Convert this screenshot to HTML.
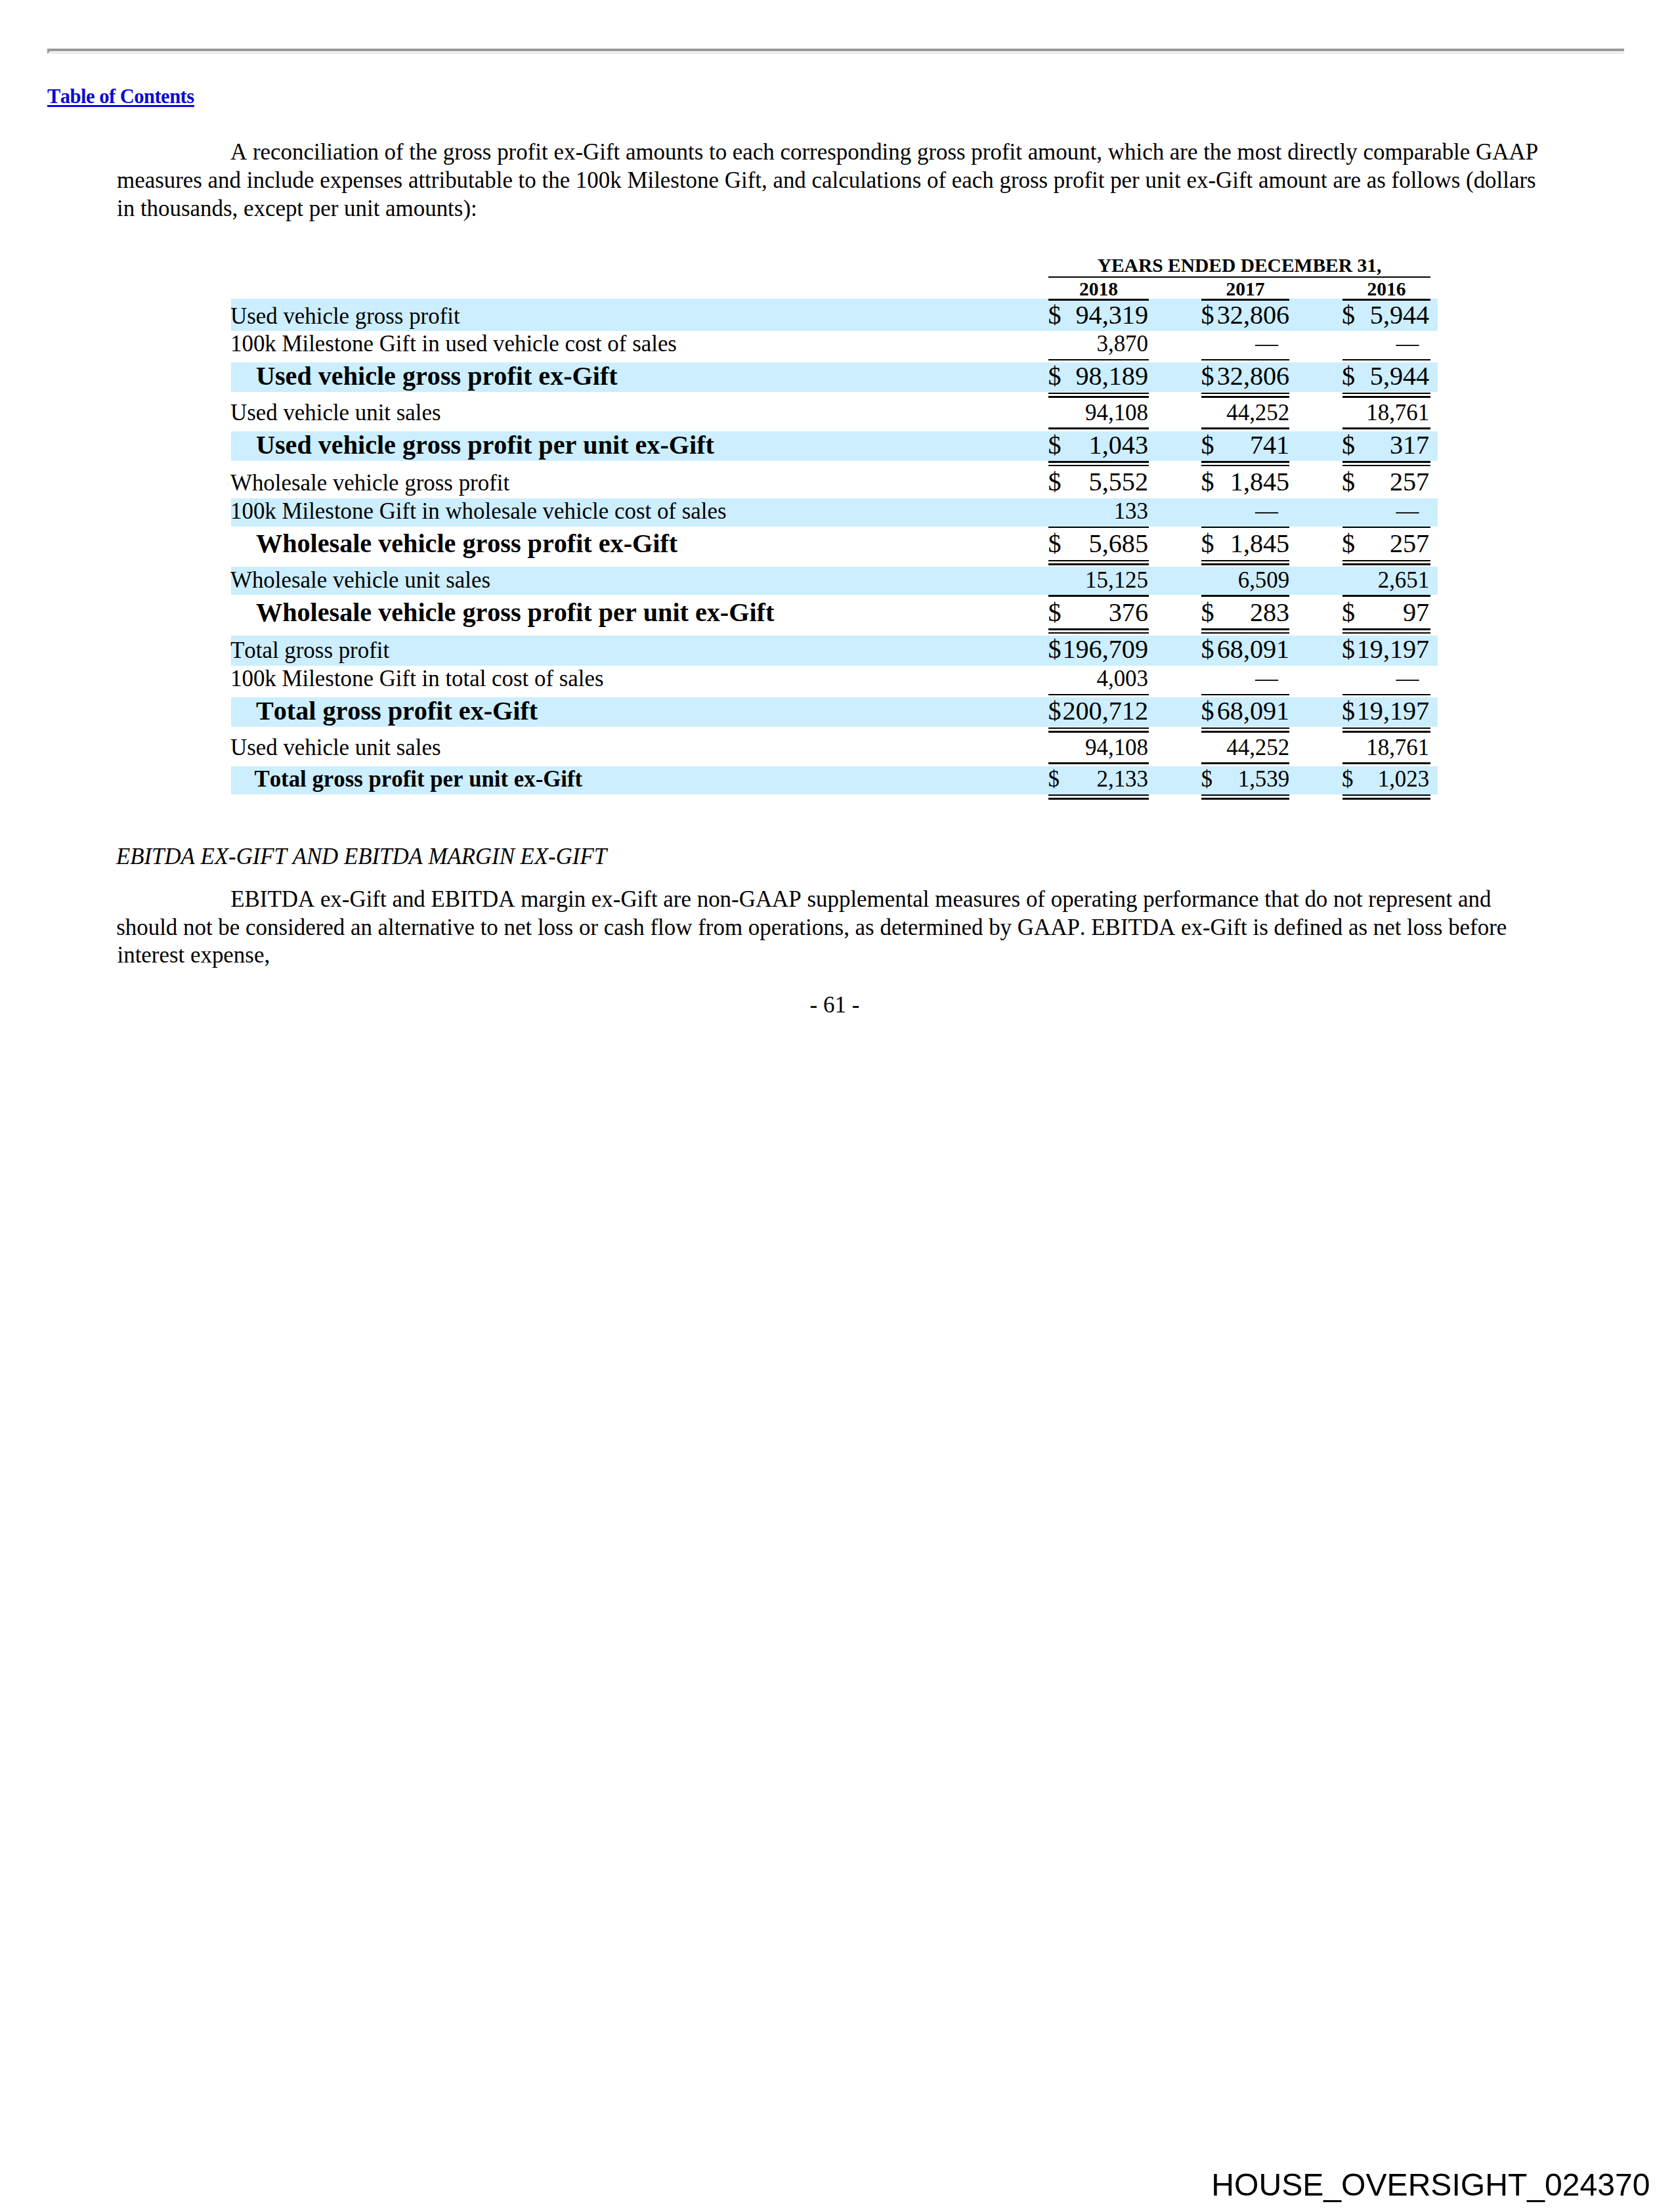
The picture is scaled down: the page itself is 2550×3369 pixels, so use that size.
<!DOCTYPE html>
<html lang="en"><head><meta charset="utf-8"><title>Page 61</title>
<style>
html,body{margin:0;padding:0;background:#fff;}
body{width:2550px;height:3369px;position:relative;overflow:hidden;}
.t{position:absolute;white-space:nowrap;color:#000;font-kerning:none;font-variant-ligatures:none;}
.r{position:absolute;}
.bm{display:inline-block;width:0;height:0;vertical-align:baseline;}
</style></head><body>
<div class="r" style="left:72px;top:74px;width:2402px;height:4px;background:#999999"></div>
<div class="r" style="left:72px;top:79px;width:2401px;height:3px;background:#ececec"></div>
<div class="r" style="left:72px;top:78px;width:4px;height:4px;background:#999999;clip-path:polygon(0 0,100% 0,0 100%)"></div>
<a class="t" href="#toc" style="top:132.00px;font-size:30.5px;line-height:30.5px;font-family:'Liberation Serif', 'Times New Roman', serif;font-weight:bold;color:#0a0ad8;left:72.00px;letter-spacing:-0.5px;text-decoration:none;">Table of Contents</a>
<div class="r" style="left:72px;top:160px;width:224px;height:3px;background:#0a0ad8"></div>
<div class="t" style="top:215.00px;font-size:34.92px;line-height:34.92px;font-family:'Liberation Serif', 'Times New Roman', serif;left:351.00px;">A reconciliation of the gross profit ex-Gift amounts to each corresponding gross profit amount, which are the most directly comparable GAAP</div>
<div class="t" style="top:258.01px;font-size:34.92px;line-height:34.92px;font-family:'Liberation Serif', 'Times New Roman', serif;left:178.00px;">measures and include expenses attributable to the 100k Milestone Gift, and calculations of each gross profit per unit ex-Gift amount are as follows (dollars</div>
<div class="t" style="top:301.01px;font-size:34.92px;line-height:34.92px;font-family:'Liberation Serif', 'Times New Roman', serif;left:178.00px;">in thousands, except per unit amounts):</div>
<div class="r" style="left:352px;top:455px;width:1838px;height:49px;background:#CCEEFF"></div>
<div class="r" style="left:352px;top:552px;width:1838px;height:45px;background:#CCEEFF"></div>
<div class="r" style="left:352px;top:657px;width:1838px;height:45px;background:#CCEEFF"></div>
<div class="r" style="left:352px;top:759px;width:1838px;height:43px;background:#CCEEFF"></div>
<div class="r" style="left:352px;top:863px;width:1838px;height:43px;background:#CCEEFF"></div>
<div class="r" style="left:352px;top:968px;width:1838px;height:46px;background:#CCEEFF"></div>
<div class="r" style="left:352px;top:1062px;width:1838px;height:45px;background:#CCEEFF"></div>
<div class="r" style="left:352px;top:1167px;width:1838px;height:43px;background:#CCEEFF"></div>
<div class="t" style="top:390.01px;font-size:29.5px;line-height:29.5px;font-family:'Liberation Serif', 'Times New Roman', serif;font-weight:bold;left:888.00px;width:2000px;text-align:center;">YEARS ENDED DECEMBER 31,</div>
<div class="r" style="left:1597px;top:421px;width:582px;height:2px;background:#000"></div>
<div class="t" style="top:426.01px;font-size:29.5px;line-height:29.5px;font-family:'Liberation Serif', 'Times New Roman', serif;font-weight:bold;left:673.50px;width:2000px;text-align:center;">2018</div>
<div class="r" style="left:1597px;top:455px;width:153px;height:3px;background:#000"></div>
<div class="t" style="top:426.01px;font-size:29.5px;line-height:29.5px;font-family:'Liberation Serif', 'Times New Roman', serif;font-weight:bold;left:897.00px;width:2000px;text-align:center;">2017</div>
<div class="r" style="left:1830px;top:455px;width:134px;height:3px;background:#000"></div>
<div class="t" style="top:426.01px;font-size:29.5px;line-height:29.5px;font-family:'Liberation Serif', 'Times New Roman', serif;font-weight:bold;left:1112.00px;width:2000px;text-align:center;">2016</div>
<div class="r" style="left:2045px;top:455px;width:134px;height:3px;background:#000"></div>
<div class="t" style="top:465.01px;font-size:34.88px;line-height:34.88px;font-family:'Liberation Serif', 'Times New Roman', serif;left:351.00px;">Used vehicle gross profit</div>
<div class="t" style="top:460.00px;font-size:40.2px;line-height:40.2px;font-family:'Liberation Serif', 'Times New Roman', serif;left:1596.40px;">$</div>
<div class="t" style="top:460.00px;font-size:40.2px;line-height:40.2px;font-family:'Liberation Serif', 'Times New Roman', serif;right:801.00px;text-align:right;">94,319</div>
<div class="t" style="top:460.00px;font-size:40.2px;line-height:40.2px;font-family:'Liberation Serif', 'Times New Roman', serif;left:1829.60px;">$</div>
<div class="t" style="top:460.00px;font-size:40.2px;line-height:40.2px;font-family:'Liberation Serif', 'Times New Roman', serif;right:585.80px;text-align:right;">32,806</div>
<div class="t" style="top:460.00px;font-size:40.2px;line-height:40.2px;font-family:'Liberation Serif', 'Times New Roman', serif;left:2044.00px;">$</div>
<div class="t" style="top:460.00px;font-size:40.2px;line-height:40.2px;font-family:'Liberation Serif', 'Times New Roman', serif;right:372.80px;text-align:right;">5,944</div>
<div class="t" style="top:507.01px;font-size:34.88px;line-height:34.88px;font-family:'Liberation Serif', 'Times New Roman', serif;left:351.00px;">100k Milestone Gift in used vehicle cost of sales</div>
<div class="t" style="top:507.01px;font-size:34.9px;line-height:34.9px;font-family:'Liberation Serif', 'Times New Roman', serif;right:801.00px;text-align:right;">3,870</div>
<div class="t" style="top:507.01px;font-size:34.9px;line-height:34.9px;font-family:'Liberation Serif', 'Times New Roman', serif;right:603.00px;text-align:right;">&#8212;</div>
<div class="t" style="top:507.01px;font-size:34.9px;line-height:34.9px;font-family:'Liberation Serif', 'Times New Roman', serif;right:388.70px;text-align:right;">&#8212;</div>
<div class="r" style="left:1597px;top:547px;width:153px;height:2px;background:#000"></div>
<div class="r" style="left:1830px;top:547px;width:134px;height:2px;background:#000"></div>
<div class="r" style="left:2045px;top:547px;width:134px;height:2px;background:#000"></div>
<div class="t" style="top:553.01px;font-size:40.15px;line-height:40.15px;font-family:'Liberation Serif', 'Times New Roman', serif;font-weight:bold;left:390.00px;">Used vehicle gross profit ex-Gift</div>
<div class="t" style="top:553.01px;font-size:40.2px;line-height:40.2px;font-family:'Liberation Serif', 'Times New Roman', serif;left:1596.40px;">$</div>
<div class="t" style="top:553.01px;font-size:40.2px;line-height:40.2px;font-family:'Liberation Serif', 'Times New Roman', serif;right:801.00px;text-align:right;">98,189</div>
<div class="t" style="top:553.01px;font-size:40.2px;line-height:40.2px;font-family:'Liberation Serif', 'Times New Roman', serif;left:1829.60px;">$</div>
<div class="t" style="top:553.01px;font-size:40.2px;line-height:40.2px;font-family:'Liberation Serif', 'Times New Roman', serif;right:585.80px;text-align:right;">32,806</div>
<div class="t" style="top:553.01px;font-size:40.2px;line-height:40.2px;font-family:'Liberation Serif', 'Times New Roman', serif;left:2044.00px;">$</div>
<div class="t" style="top:553.01px;font-size:40.2px;line-height:40.2px;font-family:'Liberation Serif', 'Times New Roman', serif;right:372.80px;text-align:right;">5,944</div>
<div class="r" style="left:1597px;top:598px;width:153px;height:2px;background:#000"></div>
<div class="r" style="left:1597px;top:603px;width:153px;height:3px;background:#000"></div>
<div class="r" style="left:1830px;top:598px;width:134px;height:2px;background:#000"></div>
<div class="r" style="left:1830px;top:603px;width:134px;height:3px;background:#000"></div>
<div class="r" style="left:2045px;top:598px;width:134px;height:2px;background:#000"></div>
<div class="r" style="left:2045px;top:603px;width:134px;height:3px;background:#000"></div>
<div class="t" style="top:612.01px;font-size:34.88px;line-height:34.88px;font-family:'Liberation Serif', 'Times New Roman', serif;left:351.00px;">Used vehicle unit sales</div>
<div class="t" style="top:612.01px;font-size:34.9px;line-height:34.9px;font-family:'Liberation Serif', 'Times New Roman', serif;right:801.00px;text-align:right;">94,108</div>
<div class="t" style="top:612.01px;font-size:34.9px;line-height:34.9px;font-family:'Liberation Serif', 'Times New Roman', serif;right:585.80px;text-align:right;">44,252</div>
<div class="t" style="top:612.01px;font-size:34.9px;line-height:34.9px;font-family:'Liberation Serif', 'Times New Roman', serif;right:372.80px;text-align:right;">18,761</div>
<div class="r" style="left:1597px;top:651px;width:153px;height:3px;background:#000"></div>
<div class="r" style="left:1830px;top:651px;width:134px;height:3px;background:#000"></div>
<div class="r" style="left:2045px;top:651px;width:134px;height:3px;background:#000"></div>
<div class="t" style="top:658.01px;font-size:40.15px;line-height:40.15px;font-family:'Liberation Serif', 'Times New Roman', serif;font-weight:bold;left:390.00px;">Used vehicle gross profit per unit ex-Gift</div>
<div class="t" style="top:658.00px;font-size:40.2px;line-height:40.2px;font-family:'Liberation Serif', 'Times New Roman', serif;left:1596.40px;">$</div>
<div class="t" style="top:658.00px;font-size:40.2px;line-height:40.2px;font-family:'Liberation Serif', 'Times New Roman', serif;right:801.00px;text-align:right;">1,043</div>
<div class="t" style="top:658.00px;font-size:40.2px;line-height:40.2px;font-family:'Liberation Serif', 'Times New Roman', serif;left:1829.60px;">$</div>
<div class="t" style="top:658.00px;font-size:40.2px;line-height:40.2px;font-family:'Liberation Serif', 'Times New Roman', serif;right:585.80px;text-align:right;">741</div>
<div class="t" style="top:658.00px;font-size:40.2px;line-height:40.2px;font-family:'Liberation Serif', 'Times New Roman', serif;left:2044.00px;">$</div>
<div class="t" style="top:658.00px;font-size:40.2px;line-height:40.2px;font-family:'Liberation Serif', 'Times New Roman', serif;right:372.80px;text-align:right;">317</div>
<div class="r" style="left:1597px;top:702px;width:153px;height:3px;background:#000"></div>
<div class="r" style="left:1597px;top:708px;width:153px;height:2px;background:#000"></div>
<div class="r" style="left:1830px;top:702px;width:134px;height:3px;background:#000"></div>
<div class="r" style="left:1830px;top:708px;width:134px;height:2px;background:#000"></div>
<div class="r" style="left:2045px;top:702px;width:134px;height:3px;background:#000"></div>
<div class="r" style="left:2045px;top:708px;width:134px;height:2px;background:#000"></div>
<div class="t" style="top:719.00px;font-size:34.88px;line-height:34.88px;font-family:'Liberation Serif', 'Times New Roman', serif;left:351.00px;">Wholesale vehicle gross profit</div>
<div class="t" style="top:714.02px;font-size:40.2px;line-height:40.2px;font-family:'Liberation Serif', 'Times New Roman', serif;left:1596.40px;">$</div>
<div class="t" style="top:714.02px;font-size:40.2px;line-height:40.2px;font-family:'Liberation Serif', 'Times New Roman', serif;right:801.00px;text-align:right;">5,552</div>
<div class="t" style="top:714.02px;font-size:40.2px;line-height:40.2px;font-family:'Liberation Serif', 'Times New Roman', serif;left:1829.60px;">$</div>
<div class="t" style="top:714.02px;font-size:40.2px;line-height:40.2px;font-family:'Liberation Serif', 'Times New Roman', serif;right:585.80px;text-align:right;">1,845</div>
<div class="t" style="top:714.02px;font-size:40.2px;line-height:40.2px;font-family:'Liberation Serif', 'Times New Roman', serif;left:2044.00px;">$</div>
<div class="t" style="top:714.02px;font-size:40.2px;line-height:40.2px;font-family:'Liberation Serif', 'Times New Roman', serif;right:372.80px;text-align:right;">257</div>
<div class="t" style="top:762.01px;font-size:34.88px;line-height:34.88px;font-family:'Liberation Serif', 'Times New Roman', serif;left:351.00px;">100k Milestone Gift in wholesale vehicle cost of sales</div>
<div class="t" style="top:762.01px;font-size:34.9px;line-height:34.9px;font-family:'Liberation Serif', 'Times New Roman', serif;right:801.00px;text-align:right;">133</div>
<div class="t" style="top:762.01px;font-size:34.9px;line-height:34.9px;font-family:'Liberation Serif', 'Times New Roman', serif;right:603.00px;text-align:right;">&#8212;</div>
<div class="t" style="top:762.01px;font-size:34.9px;line-height:34.9px;font-family:'Liberation Serif', 'Times New Roman', serif;right:388.70px;text-align:right;">&#8212;</div>
<div class="r" style="left:1597px;top:802px;width:153px;height:2px;background:#000"></div>
<div class="r" style="left:1830px;top:802px;width:134px;height:2px;background:#000"></div>
<div class="r" style="left:2045px;top:802px;width:134px;height:2px;background:#000"></div>
<div class="t" style="top:808.01px;font-size:40.15px;line-height:40.15px;font-family:'Liberation Serif', 'Times New Roman', serif;font-weight:bold;left:390.00px;">Wholesale vehicle gross profit ex-Gift</div>
<div class="t" style="top:808.01px;font-size:40.2px;line-height:40.2px;font-family:'Liberation Serif', 'Times New Roman', serif;left:1596.40px;">$</div>
<div class="t" style="top:808.01px;font-size:40.2px;line-height:40.2px;font-family:'Liberation Serif', 'Times New Roman', serif;right:801.00px;text-align:right;">5,685</div>
<div class="t" style="top:808.01px;font-size:40.2px;line-height:40.2px;font-family:'Liberation Serif', 'Times New Roman', serif;left:1829.60px;">$</div>
<div class="t" style="top:808.01px;font-size:40.2px;line-height:40.2px;font-family:'Liberation Serif', 'Times New Roman', serif;right:585.80px;text-align:right;">1,845</div>
<div class="t" style="top:808.01px;font-size:40.2px;line-height:40.2px;font-family:'Liberation Serif', 'Times New Roman', serif;left:2044.00px;">$</div>
<div class="t" style="top:808.01px;font-size:40.2px;line-height:40.2px;font-family:'Liberation Serif', 'Times New Roman', serif;right:372.80px;text-align:right;">257</div>
<div class="r" style="left:1597px;top:853px;width:153px;height:2px;background:#000"></div>
<div class="r" style="left:1597px;top:858px;width:153px;height:3px;background:#000"></div>
<div class="r" style="left:1830px;top:853px;width:134px;height:2px;background:#000"></div>
<div class="r" style="left:1830px;top:858px;width:134px;height:3px;background:#000"></div>
<div class="r" style="left:2045px;top:853px;width:134px;height:2px;background:#000"></div>
<div class="r" style="left:2045px;top:858px;width:134px;height:3px;background:#000"></div>
<div class="t" style="top:867.01px;font-size:34.88px;line-height:34.88px;font-family:'Liberation Serif', 'Times New Roman', serif;left:351.00px;">Wholesale vehicle unit sales</div>
<div class="t" style="top:867.01px;font-size:34.9px;line-height:34.9px;font-family:'Liberation Serif', 'Times New Roman', serif;right:801.00px;text-align:right;">15,125</div>
<div class="t" style="top:867.01px;font-size:34.9px;line-height:34.9px;font-family:'Liberation Serif', 'Times New Roman', serif;right:585.80px;text-align:right;">6,509</div>
<div class="t" style="top:867.01px;font-size:34.9px;line-height:34.9px;font-family:'Liberation Serif', 'Times New Roman', serif;right:372.80px;text-align:right;">2,651</div>
<div class="r" style="left:1597px;top:906px;width:153px;height:3px;background:#000"></div>
<div class="r" style="left:1830px;top:906px;width:134px;height:3px;background:#000"></div>
<div class="r" style="left:2045px;top:906px;width:134px;height:3px;background:#000"></div>
<div class="t" style="top:913.02px;font-size:40.15px;line-height:40.15px;font-family:'Liberation Serif', 'Times New Roman', serif;font-weight:bold;left:390.00px;">Wholesale vehicle gross profit per unit ex-Gift</div>
<div class="t" style="top:913.01px;font-size:40.2px;line-height:40.2px;font-family:'Liberation Serif', 'Times New Roman', serif;left:1596.40px;">$</div>
<div class="t" style="top:913.01px;font-size:40.2px;line-height:40.2px;font-family:'Liberation Serif', 'Times New Roman', serif;right:801.00px;text-align:right;">376</div>
<div class="t" style="top:913.01px;font-size:40.2px;line-height:40.2px;font-family:'Liberation Serif', 'Times New Roman', serif;left:1829.60px;">$</div>
<div class="t" style="top:913.01px;font-size:40.2px;line-height:40.2px;font-family:'Liberation Serif', 'Times New Roman', serif;right:585.80px;text-align:right;">283</div>
<div class="t" style="top:913.01px;font-size:40.2px;line-height:40.2px;font-family:'Liberation Serif', 'Times New Roman', serif;left:2044.00px;">$</div>
<div class="t" style="top:913.01px;font-size:40.2px;line-height:40.2px;font-family:'Liberation Serif', 'Times New Roman', serif;right:372.80px;text-align:right;">97</div>
<div class="r" style="left:1597px;top:957px;width:153px;height:3px;background:#000"></div>
<div class="r" style="left:1597px;top:963px;width:153px;height:2px;background:#000"></div>
<div class="r" style="left:1830px;top:957px;width:134px;height:3px;background:#000"></div>
<div class="r" style="left:1830px;top:963px;width:134px;height:2px;background:#000"></div>
<div class="r" style="left:2045px;top:957px;width:134px;height:3px;background:#000"></div>
<div class="r" style="left:2045px;top:963px;width:134px;height:2px;background:#000"></div>
<div class="t" style="top:974.01px;font-size:34.88px;line-height:34.88px;font-family:'Liberation Serif', 'Times New Roman', serif;left:351.00px;">Total gross profit</div>
<div class="t" style="top:969.01px;font-size:40.2px;line-height:40.2px;font-family:'Liberation Serif', 'Times New Roman', serif;left:1596.40px;">$</div>
<div class="t" style="top:969.01px;font-size:40.2px;line-height:40.2px;font-family:'Liberation Serif', 'Times New Roman', serif;right:801.00px;text-align:right;">196,709</div>
<div class="t" style="top:969.01px;font-size:40.2px;line-height:40.2px;font-family:'Liberation Serif', 'Times New Roman', serif;left:1829.60px;">$</div>
<div class="t" style="top:969.01px;font-size:40.2px;line-height:40.2px;font-family:'Liberation Serif', 'Times New Roman', serif;right:585.80px;text-align:right;">68,091</div>
<div class="t" style="top:969.01px;font-size:40.2px;line-height:40.2px;font-family:'Liberation Serif', 'Times New Roman', serif;left:2044.00px;">$</div>
<div class="t" style="top:969.01px;font-size:40.2px;line-height:40.2px;font-family:'Liberation Serif', 'Times New Roman', serif;right:372.80px;text-align:right;">19,197</div>
<div class="t" style="top:1017.01px;font-size:34.88px;line-height:34.88px;font-family:'Liberation Serif', 'Times New Roman', serif;left:351.00px;">100k Milestone Gift in total cost of sales</div>
<div class="t" style="top:1017.01px;font-size:34.9px;line-height:34.9px;font-family:'Liberation Serif', 'Times New Roman', serif;right:801.00px;text-align:right;">4,003</div>
<div class="t" style="top:1017.01px;font-size:34.9px;line-height:34.9px;font-family:'Liberation Serif', 'Times New Roman', serif;right:603.00px;text-align:right;">&#8212;</div>
<div class="t" style="top:1017.01px;font-size:34.9px;line-height:34.9px;font-family:'Liberation Serif', 'Times New Roman', serif;right:388.70px;text-align:right;">&#8212;</div>
<div class="r" style="left:1597px;top:1057px;width:153px;height:2px;background:#000"></div>
<div class="r" style="left:1830px;top:1057px;width:134px;height:2px;background:#000"></div>
<div class="r" style="left:2045px;top:1057px;width:134px;height:2px;background:#000"></div>
<div class="t" style="top:1063.02px;font-size:40.15px;line-height:40.15px;font-family:'Liberation Serif', 'Times New Roman', serif;font-weight:bold;left:390.00px;">Total gross profit ex-Gift</div>
<div class="t" style="top:1063.01px;font-size:40.2px;line-height:40.2px;font-family:'Liberation Serif', 'Times New Roman', serif;left:1596.40px;">$</div>
<div class="t" style="top:1063.01px;font-size:40.2px;line-height:40.2px;font-family:'Liberation Serif', 'Times New Roman', serif;right:801.00px;text-align:right;">200,712</div>
<div class="t" style="top:1063.01px;font-size:40.2px;line-height:40.2px;font-family:'Liberation Serif', 'Times New Roman', serif;left:1829.60px;">$</div>
<div class="t" style="top:1063.01px;font-size:40.2px;line-height:40.2px;font-family:'Liberation Serif', 'Times New Roman', serif;right:585.80px;text-align:right;">68,091</div>
<div class="t" style="top:1063.01px;font-size:40.2px;line-height:40.2px;font-family:'Liberation Serif', 'Times New Roman', serif;left:2044.00px;">$</div>
<div class="t" style="top:1063.01px;font-size:40.2px;line-height:40.2px;font-family:'Liberation Serif', 'Times New Roman', serif;right:372.80px;text-align:right;">19,197</div>
<div class="r" style="left:1597px;top:1108px;width:153px;height:2px;background:#000"></div>
<div class="r" style="left:1597px;top:1113px;width:153px;height:3px;background:#000"></div>
<div class="r" style="left:1830px;top:1108px;width:134px;height:2px;background:#000"></div>
<div class="r" style="left:1830px;top:1113px;width:134px;height:3px;background:#000"></div>
<div class="r" style="left:2045px;top:1108px;width:134px;height:2px;background:#000"></div>
<div class="r" style="left:2045px;top:1113px;width:134px;height:3px;background:#000"></div>
<div class="t" style="top:1122.01px;font-size:34.88px;line-height:34.88px;font-family:'Liberation Serif', 'Times New Roman', serif;left:351.00px;">Used vehicle unit sales</div>
<div class="t" style="top:1122.01px;font-size:34.9px;line-height:34.9px;font-family:'Liberation Serif', 'Times New Roman', serif;right:801.00px;text-align:right;">94,108</div>
<div class="t" style="top:1122.01px;font-size:34.9px;line-height:34.9px;font-family:'Liberation Serif', 'Times New Roman', serif;right:585.80px;text-align:right;">44,252</div>
<div class="t" style="top:1122.01px;font-size:34.9px;line-height:34.9px;font-family:'Liberation Serif', 'Times New Roman', serif;right:372.80px;text-align:right;">18,761</div>
<div class="r" style="left:1597px;top:1161px;width:153px;height:3px;background:#000"></div>
<div class="r" style="left:1830px;top:1161px;width:134px;height:3px;background:#000"></div>
<div class="r" style="left:2045px;top:1161px;width:134px;height:3px;background:#000"></div>
<div class="t" style="top:1170.01px;font-size:34.8px;line-height:34.8px;font-family:'Liberation Serif', 'Times New Roman', serif;font-weight:bold;left:387.50px;">Total gross profit per unit ex-Gift</div>
<div class="t" style="top:1170.02px;font-size:34.9px;line-height:34.9px;font-family:'Liberation Serif', 'Times New Roman', serif;left:1596.40px;">$</div>
<div class="t" style="top:1170.02px;font-size:34.9px;line-height:34.9px;font-family:'Liberation Serif', 'Times New Roman', serif;right:801.00px;text-align:right;">2,133</div>
<div class="t" style="top:1170.02px;font-size:34.9px;line-height:34.9px;font-family:'Liberation Serif', 'Times New Roman', serif;left:1829.60px;">$</div>
<div class="t" style="top:1170.02px;font-size:34.9px;line-height:34.9px;font-family:'Liberation Serif', 'Times New Roman', serif;right:585.80px;text-align:right;">1,539</div>
<div class="t" style="top:1170.02px;font-size:34.9px;line-height:34.9px;font-family:'Liberation Serif', 'Times New Roman', serif;left:2044.00px;">$</div>
<div class="t" style="top:1170.02px;font-size:34.9px;line-height:34.9px;font-family:'Liberation Serif', 'Times New Roman', serif;right:372.80px;text-align:right;">1,023</div>
<div class="r" style="left:1597px;top:1210px;width:153px;height:2px;background:#000"></div>
<div class="r" style="left:1597px;top:1215px;width:153px;height:3px;background:#000"></div>
<div class="r" style="left:1830px;top:1210px;width:134px;height:2px;background:#000"></div>
<div class="r" style="left:1830px;top:1215px;width:134px;height:3px;background:#000"></div>
<div class="r" style="left:2045px;top:1210px;width:134px;height:2px;background:#000"></div>
<div class="r" style="left:2045px;top:1215px;width:134px;height:3px;background:#000"></div>
<div class="t" style="top:1288.01px;font-size:34.8px;line-height:34.8px;font-family:'Liberation Serif', 'Times New Roman', serif;font-style:italic;left:177.00px;">EBITDA EX-GIFT AND EBITDA MARGIN EX-GIFT</div>
<div class="t" style="top:1353.00px;font-size:34.92px;line-height:34.92px;font-family:'Liberation Serif', 'Times New Roman', serif;left:351.20px;">EBITDA ex-Gift and EBITDA margin ex-Gift are non-GAAP supplemental measures of operating performance that do not represent and</div>
<div class="t" style="top:1396.00px;font-size:34.92px;line-height:34.92px;font-family:'Liberation Serif', 'Times New Roman', serif;left:177.20px;">should not be considered an alternative to net loss or cash flow from operations, as determined by GAAP. EBITDA ex-Gift is defined as net loss before</div>
<div class="t" style="top:1438.01px;font-size:34.92px;line-height:34.92px;font-family:'Liberation Serif', 'Times New Roman', serif;left:178.50px;">interest expense,</div>
<div class="t" style="top:1513.00px;font-size:35px;line-height:35px;font-family:'Liberation Serif', 'Times New Roman', serif;left:271.50px;width:2000px;text-align:center;">- 61 -</div>
<div class="t" style="top:3303.02px;font-size:48.1px;line-height:48.1px;font-family:'Liberation Sans', Arial, sans-serif;left:1845.30px;">HOUSE_OVERSIGHT_024370</div>
</body></html>
